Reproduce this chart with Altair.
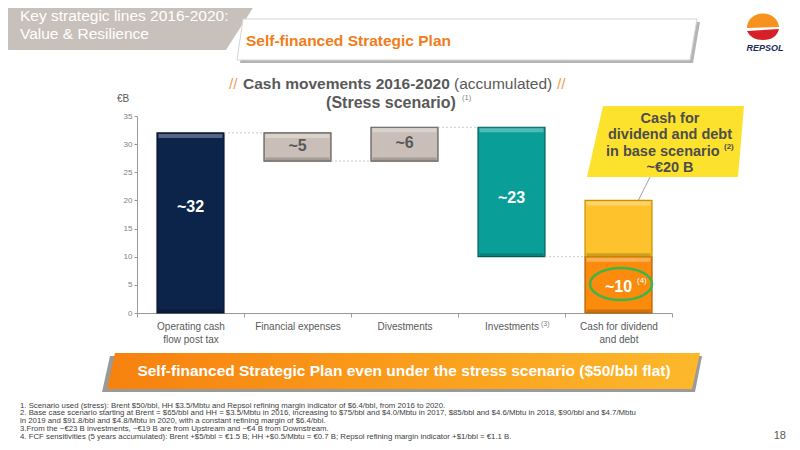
import altair as alt
import pandas as pd

FONT = "Liberation Sans, Arial, Helvetica, sans-serif"
NARROW = "Liberation Sans Narrow, Arial Narrow, Liberation Sans, Arial, sans-serif"

# ---------------- data ----------------
categories = ["Operating cash|flow post tax", "Financial expenses", "Divestments",
              "Investments", "Cash for dividend|and debt"]
changes = [32, -5, 6, -23]          # waterfall steps (EUR B)
base_extra = 10                     # extra cash for dividend/debt in base scenario (20 - 10)
label_texts = ["~32", "~5", "~6", "~23", "~10"]
label_levels = [18.8, 29.6, 30.2, 20.5, 4.6]
y_ticks = [0, 5, 10, 15, 20, 25, 30, 35]

keys = categories + ["Base scenario"]
fills = ["#0c2449", "#c9bfb8", "#c9bfb8", "#0a9e99", "#fb8b0c", "#fdc22c"]
strokes = ["#061630", "#5e5650", "#5e5650", "#06605d", "#b05e00", "#c89000"]
label_colors = ["#ffffff", "#595959", "#595959", "#ffffff", "#ffffff"]

footnotes = [
    "1. Scenario used (stress): Brent $50/bbl, HH $3.5/Mbtu and Repsol refining margin indicator of $6.4/bbl, from 2016 to 2020.",
    "2. Base case scenario starting at Brent = $65/bbl and HH = $3.5/Mbtu in 2016, increasing to $75/bbl and $4.0/Mbtu in 2017, $85/bbl and $4.6/Mbtu in 2018, $90/bbl and $4.7/Mbtu",
    " in 2019 and $91.8/bbl and $4.8/Mbtu in 2020, with a constant refining margin of $6.4/bbl.",
    "3.From the ~\u20ac23 B investments, ~\u20ac19 B are from Upstream and ~\u20ac4 B from Downstream.",
    "4. FCF sensitivities (5 years accumulated): Brent +$5/bbl = \u20ac1.5 B; HH +$0.5/Mbtu =  \u20ac0.7 B; Repsol refining margin indicator +$1/bbl = \u20ac1.1 B.",
]

# ---------------- build tables ----------------
rows = []
level = 0
for c, d in zip(categories[:-1], changes):
    rows.append({"key": c, "cat": c, "start": level, "end": level + d})
    level += d
total = level
rows.append({"key": categories[-1], "cat": categories[-1], "start": 0, "end": total})
rows.append({"key": "Base scenario", "cat": categories[-1], "start": total, "end": total + base_extra})
bars_df = pd.DataFrame(rows)
bars_df["top"] = bars_df[["start", "end"]].max(axis=1)
bars_df["bottom"] = bars_df[["start", "end"]].min(axis=1)

lab_df = pd.DataFrame({"cat": categories, "label": label_texts, "ly": label_levels})

conn_levels = [r["end"] for r in rows[:4]]
conn_df = pd.DataFrame({"x0": [i + 0.813 for i in range(4)],
                        "x1": [i + 1.187 for i in range(4)],
                        "lv": conn_levels})

# ---------------- geometry helpers (slide decoration) ----------------
OX, OY = 137, 116      # screen position of plot origin
W, H = 535, 197
one = alt.Data(values=[{"k": 0}])


def text(s, sx, sy, size, color="#595959", weight="normal", align="left",
         baseline="alphabetic", style="normal", font=FONT):
    return alt.Chart(one).mark_text(
        text=s, fontSize=size, color=color, fontWeight=weight, align=align,
        baseline=baseline, fontStyle=style, font=font
    ).encode(x=alt.value(sx - OX), y=alt.value(sy - OY))


def poly(points, fill, stroke=None, sw=0):
    path = "M " + " L ".join(f"{x - OX} {y - OY}" for x, y in points) + " Z"
    kw = dict(shape=path, size=4, filled=True, fill=fill, opacity=1, strokeWidth=sw)
    if stroke:
        kw["stroke"] = stroke
    return alt.Chart(one).mark_point(**kw).encode(x=alt.value(0), y=alt.value(0))


def path_shape(path, cx, cy, fill=None, stroke=None, sw=1):
    kw = dict(shape=path, size=4, opacity=1, strokeWidth=sw)
    if fill:
        kw["filled"] = True
        kw["fill"] = fill
    else:
        kw["filled"] = False
    if stroke:
        kw["stroke"] = stroke
    return alt.Chart(one).mark_point(**kw).encode(x=alt.value(cx - OX), y=alt.value(cy - OY))


orange_grad = alt.LinearGradient(
    gradient="linear", x1=0, x2=1, y1=0, y2=0,
    stops=[alt.GradientStop(offset=0, color="#f7810e"),
           alt.GradientStop(offset=1, color="#fdb82a")])

decor_back = [
    poly([(0, 0), (258, 0), (226, 50), (0, 50)], "#c8c1bb"),
    poly([(246, 22), (700, 22), (693, 63), (240, 63)], "#b5b5b5"),
    poly([(243, 19), (697, 19), (690, 60), (237, 60)], "#ffffff", "#d5d5d5", 1),
    poly([(110, 356), (702, 356), (695, 392), (102, 392)], "#9a9a9a"),
    poly([(115, 353), (700, 353), (692, 389), (107, 389)], orange_grad),
    poly([(603, 106), (744, 106), (738, 177), (587, 177)], "#fce22c"),
    alt.Chart(one).mark_rule(color="#a0a0a0", strokeWidth=1).encode(
        x=alt.value(650 - OX), y=alt.value(177 - OY),
        x2=alt.value(638 - OX), y2=alt.value(201 - OY)),
    # Repsol logo
    path_shape("M 0 0 A 16 14 0 0 1 32 -1 Z", 747, 28, fill="#f7921e"),
    path_shape("M 0 0 L 32 -2 Q 29 9 16 9 Q 4 9 0 0 Z", 747, 31, fill="#d5202a"),
]

# ---------------- chart ----------------
xscale = alt.Scale(domain=categories, paddingInner=0, paddingOuter=0)
yscale = alt.Scale(domain=[0, 35], nice=False, zero=True)

x_axis = alt.Axis(labelAngle=0, labelExpr="split(datum.label, '|')",
                  labelFontSize=10, labelColor="#595959", labelFont=FONT,
                  labelLineHeight=13, labelPadding=4, tickBand="extent",
                  tickSize=4, tickColor="#9a9a9a", domainColor="#9a9a9a",
                  labelFontWeight="normal", labelOverlap=False)
y_axis = alt.Axis(values=y_ticks, labelFontSize=8, labelColor="#808080",
                  labelFont=FONT, tickSize=3, tickColor="#9a9a9a",
                  domainColor="#9a9a9a", grid=False, labelPadding=2,
                  labelOverlap=False, labelBound=False, labelFlush=False)

x_main = alt.X("cat:N", scale=xscale, sort=categories, title=None, axis=x_axis)


def Y(field):
    return alt.Y(field, scale=yscale, title=None, axis=y_axis)


bars = alt.Chart(bars_df).mark_bar(
    strokeWidth=1.2, width=alt.RelativeBandSize(0.626)
).encode(
    x=x_main, y=Y("start:Q"), y2="end:Q",
    fill=alt.Fill("key:N", scale=alt.Scale(domain=keys, range=fills), legend=None),
    stroke=alt.Stroke("key:N", scale=alt.Scale(domain=keys, range=strokes), legend=None),
)
tops = alt.Chart(bars_df).mark_tick(thickness=4, size=64, color="#ffffff", opacity=0.3,
                                    yOffset=3).encode(x=x_main, y=Y("top:Q"))
bottoms = alt.Chart(bars_df).mark_tick(thickness=3, size=64, color="#000000", opacity=0.18,
                                       yOffset=-2).encode(x=x_main, y=Y("bottom:Q"))
labels = alt.Chart(lab_df).mark_text(fontSize=16, fontWeight="bold", font=FONT).encode(
    x=x_main, y=Y("ly:Q"), text="label:N",
    color=alt.Color("cat:N", scale=alt.Scale(domain=categories, range=label_colors), legend=None))

core = alt.layer(bars, tops, bottoms, labels)

connectors = alt.Chart(conn_df).mark_rule(color="#c8c8c8", strokeDash=[2, 2], strokeWidth=1).encode(
    x=alt.X("x0:Q", scale=alt.Scale(domain=[0, 5], nice=False, zero=False), axis=None),
    x2="x1:Q",
    y=Y("lv:Q"),
)

decor_front = [
    path_shape("M -31 0 A 31 16 0 1 1 31 0 A 31 16 0 1 1 -31 0", 621, 284,
               stroke="#3cb54a", sw=2.5),
    text("(4)", 637, 283, 8, "#ffffff"),
    text("(3)", 541, 326, 7, "#7f7f7f"),
    text("\u20acB", 117, 102, 10, "#595959"),
    # header
    text("Key strategic lines 2016-2020:", 20, 21, 15.5, "#ffffff"),
    text("Value & Resilience", 20, 39, 15.5, "#ffffff"),
    text("Self-financed Strategic Plan", 246, 46, 15.5, "#f07d1a", weight="bold"),
    text("REPSOL", 765, 51, 9, "#1b2b5b", weight="bold", align="center", style="italic"),
    # chart title
    text("//", 229, 89, 15.5, "#f3a05a"),
    text("Cash movements 2016-2020", 243, 89, 15.5, "#595959", weight="bold"),
    text("(accumulated)", 454, 89, 15.5, "#595959"),
    text("//", 557, 89, 15.5, "#f3a05a"),
    text("(Stress scenario)", 391, 108, 16, "#595959", weight="bold", align="center"),
    text("(1)", 462, 100, 7.5, "#7f7f7f"),
    # callout
    text("Cash for", 670, 123, 14.5, "#4d4d4d", weight="bold", align="center"),
    text("dividend and debt", 670, 139, 14.5, "#4d4d4d", weight="bold", align="center"),
    text("in base scenario", 606, 156, 14.5, "#4d4d4d", weight="bold"),
    text("(2)", 724, 149, 8, "#4d4d4d", weight="bold"),
    text("~\u20ac20 B", 670, 172, 14.5, "#4d4d4d", weight="bold", align="center"),
    # banner
    text("Self-financed Strategic Plan even under the stress scenario ($50/bbl flat)",
         404, 376, 15.5, "#ffffff", weight="bold", align="center", font=NARROW),
    # page number
    text("18", 786, 439, 11, "#595959", align="right"),
]
fn_base = [407.5, 415, 422.5, 431, 438.5]
for s, b in zip(footnotes, fn_base):
    decor_front.append(text(s, 20, b, 7.8, "#404040"))

chart = alt.layer(*decor_back, core, connectors, *decor_front).resolve_scale(
    x="independent"
).properties(
    width=W, height=H,
    padding={"left": 129, "top": 108, "right": 120, "bottom": 129},
    autosize=alt.AutoSizeParams(type="none"),
    background="#ffffff",
).configure_view(stroke=None)

chart.save("out.html", embed_options={"renderer": "svg", "actions": False})
